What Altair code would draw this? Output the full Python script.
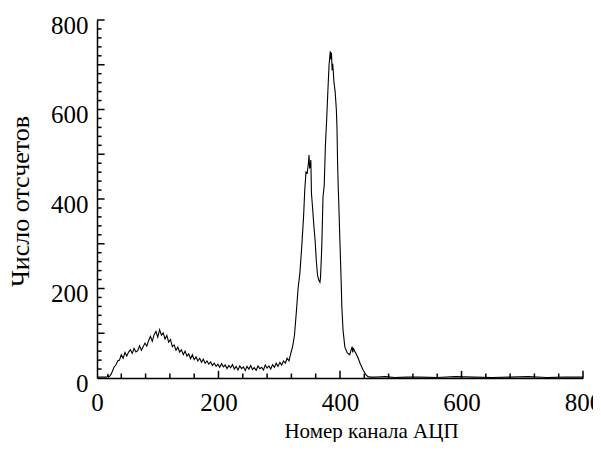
import altair as alt
import pandas as pd

# ---- data ----
channels = [
    0, 5, 10, 15, 17, 18, 19, 21, 23, 25,
    28, 31, 34, 37, 40, 43, 46, 49, 52, 55,
    58, 61, 64, 67, 70, 73, 76, 79, 82, 85,
    88, 91, 94, 97, 100, 103, 106, 109, 112, 115,
    118, 121, 124, 127, 130, 133, 136, 139, 142, 145,
    148, 151, 154, 157, 160, 163, 166, 169, 172, 175,
    178, 181, 184, 187, 190, 193, 196, 199, 202, 205,
    208, 211, 214, 217, 220, 223, 226, 229, 232, 235,
    238, 241, 244, 247, 250, 253, 256, 259, 262, 265,
    268, 271, 274, 277, 280, 283, 286, 289, 292, 295,
    298, 301, 304, 307, 310, 313, 316, 319, 322, 325,
    328, 331, 334, 337, 340, 342, 344, 346, 348, 349,
    350, 351, 352, 353, 355, 357, 359, 361, 363, 365,
    367, 368, 370, 372, 374, 376, 378, 380, 382, 384,
    385, 386, 387, 388, 389, 390, 392, 394, 395, 396,
    397, 398, 400, 402, 403, 405, 408, 412, 416, 418,
    420, 421, 422, 424, 426, 430, 433, 436, 438, 441,
    443, 446, 450, 460, 475, 490, 510, 530, 560, 590,
    620, 650, 680, 710, 740, 770, 800,
]
counts = [
    2, 2, 2, 2, 3, 9, 2, 4, 8, 14,
    24, 29, 38, 40, 52, 44, 57, 49, 58, 63,
    55, 66, 58, 61, 72, 62, 70, 78, 71, 84,
    93, 82, 97, 104, 91, 108, 96, 101, 87, 95,
    80, 86, 70, 74, 62, 69, 58, 63, 52, 60,
    49, 54, 43, 52, 41, 47, 38, 44, 35, 42,
    33, 38, 31, 36, 28, 33, 26, 31, 24, 32,
    25, 29, 21, 28, 23, 30, 20, 26, 18, 27,
    21, 25, 17, 26, 20, 28, 19, 23, 17, 27,
    21, 24, 18, 29, 22, 27, 20, 30, 24, 33,
    26, 35, 29, 38, 33, 44, 38, 55, 70, 95,
    145, 200, 235, 293, 360, 420, 460, 458, 480, 498,
    470, 472, 487, 413, 378, 340, 308, 262, 230, 219,
    214, 226, 293, 404, 430, 520, 576, 640, 700, 730,
    712, 727, 688, 702, 684, 662, 640, 600, 562, 483,
    430, 390, 300, 212, 160, 107, 69, 56, 52, 61,
    70, 57, 67, 60, 56, 44, 33, 24, 18, 11,
    7, 3, 2, 2, 3, 1, 2, 2, 1, 3,
    2, 1, 2, 3, 1, 2, 2,
]

x_labels = [0, 200, 400, 600, 800]
y_labels = [0, 200, 400, 600, 800]
x_minor_ticks = [40, 80, 120, 160, 240, 280, 320, 360, 440, 480, 520, 560,
                 640, 680, 720, 760]
x_major_ticks = [200, 400, 600, 800]
y_minor_ticks = [20, 40, 60, 80, 120, 140, 160, 180, 220, 240, 260, 280,
                 320, 340, 360, 380, 420, 440, 460, 480, 520, 540, 560, 580,
                 620, 640, 660, 680, 720, 740, 760, 780]
y_major_ticks = [100, 200, 300, 400, 500, 600, 700, 800]

W, H = 486, 358
FONT = "Liberation Serif"

df = pd.DataFrame({"channel": channels, "count": counts})

xs = alt.Scale(domain=[0, 800], nice=False, zero=False)
ys = alt.Scale(domain=[0, 800], nice=False)

common = dict(
    grid=False, ticks=False, domainColor="black", domainWidth=1.5,
    labelFont=FONT, labelFontSize=25, labelColor="black", labelFlush=False,
    titleFont=FONT, titleFontWeight="normal", titleColor="black",
)
x_axis = alt.Axis(
    values=x_labels, title="Номер канала АЦП", labelPadding=12,
    titleFontSize=21, titleX=274, titleY=59, titleAlign="center",
    titleBaseline="alphabetic", **common,
)
y_axis = alt.Axis(
    values=y_labels, title="Число отсчетов", labelPadding=9, labelOffset=5,
    titleFontSize=26, titleX=-69, titleY=181, titleAngle=270, titleAlign="center",
    titleBaseline="alphabetic", **common,
)

line = alt.Chart(df).mark_line(color="black", strokeWidth=1.1).encode(
    x=alt.X("channel:Q", scale=xs, axis=x_axis),
    y=alt.Y("count:Q", scale=ys, axis=y_axis),
)

# inward tick marks; lengths are given in data units of the other axis
def xticks(vals, length_units):
    return alt.Chart(pd.DataFrame({"channel": vals})).mark_rule(
        color="black", strokeWidth=1.5
    ).encode(
        x=alt.X("channel:Q", scale=xs),
        y=alt.datum(0),
        y2=alt.datum(length_units),
    )

def yticks(vals, length_units):
    return alt.Chart(pd.DataFrame({"count": vals})).mark_rule(
        color="black", strokeWidth=1.5
    ).encode(
        y=alt.Y("count:Q", scale=ys),
        x=alt.datum(0),
        x2=alt.datum(length_units),
    )

chart = alt.layer(
    line,
    xticks(x_minor_ticks, 10),
    xticks(x_major_ticks, 16),
    yticks(y_minor_ticks, 7.5),
    yticks(y_major_ticks, 12.5),
).properties(
    width=W,
    height=H,
    autosize=alt.AutoSizeParams(type="none"),
    padding={"left": 89, "top": 12, "right": 10, "bottom": 64},
    background="white",
).configure_view(stroke=None)

chart.save("out.html", embed_options={"renderer": "svg", "actions": False})
